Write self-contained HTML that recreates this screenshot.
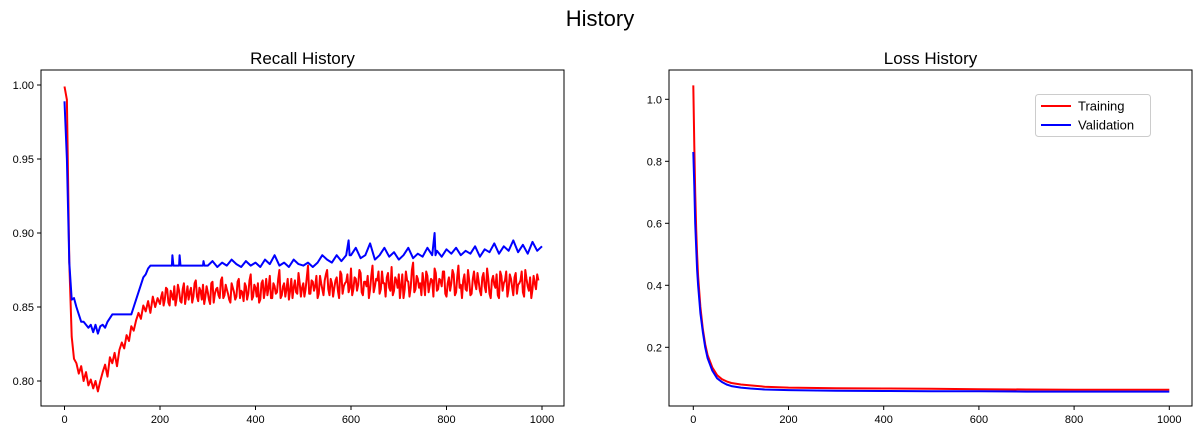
<!DOCTYPE html>
<html><head><meta charset="utf-8"><style>
body{margin:0;background:#fff;}
svg text{font-family:"Liberation Sans","DejaVu Sans",sans-serif;fill:#000;}
</style></head><body>
<svg id="c" width="1200" height="432">
<text x="600" y="26" font-size="22" text-anchor="middle">History</text>
</svg>
<script>
const recallTrainEpochs0 = [0,5,10,15,20,25,30,35,40,45,50,55,60,65,70,75,80,85,90,95,100,105,110,115,120,125,130,135,140,145,150,155,160,165,170,175,180,185,190,195];
const recallTrainVals0 = [0.999,0.99,0.88,0.83,0.815,0.812,0.805,0.81,0.80,0.806,0.797,0.801,0.795,0.80,0.793,0.80,0.806,0.811,0.803,0.816,0.812,0.819,0.81,0.821,0.826,0.822,0.831,0.827,0.837,0.834,0.841,0.846,0.842,0.851,0.847,0.854,0.846,0.857,0.85,0.856];
const recallTrainTail = [0.852,0.86,0.855,0.862,0.851,0.858,0.864,0.856,0.861,0.853,0.866,0.858,0.855,0.863,0.857,0.868,0.854,0.861,0.865,0.857,0.86,0.852,0.867,0.859,0.863,0.856,0.87,0.858,0.862,0.855,0.866,0.86,0.857,0.869,0.861,0.854,0.864,0.859,0.872,0.857,0.863,0.866,0.855,0.868,0.861,0.858,0.871,0.856,0.864,0.86,0.875,0.858,0.866,0.862,0.855,0.869,0.863,0.86,0.873,0.857,0.866,0.862,0.878,0.859,0.867,0.864,0.856,0.871,0.862,0.868,0.875,0.858,0.866,0.863,0.87,0.856,0.872,0.864,0.867,0.86,0.876,0.862,0.869,0.865,0.873,0.858,0.867,0.871,0.862,0.878,0.864,0.868,0.859,0.874,0.866,0.87,0.863,0.877,0.861,0.868,0.872,0.864,0.856,0.874,0.867,0.863,0.88,0.862,0.869,0.866,0.873,0.858,0.871,0.865,0.868,0.876,0.861,0.869,0.864,0.874,0.857,0.87,0.866,0.872,0.86,0.878,0.865,0.868,0.862,0.875,0.858,0.869,0.866,0.873,0.861,0.87,0.864,0.876,0.859,0.868,0.865,0.872,0.856,0.871,0.866,0.874,0.862,0.869,0.858,0.873,0.865,0.868,0.86,0.875,0.864,0.87,0.862,0.866,0.872];
const recallTrainTailMid = [0.857,0.851,0.863,0.853,0.861,0.855,0.851,0.865,0.854,0.862,0.852,0.864,0.86,0.853,0.866,0.857,0.863,0.855,0.852,0.864,0.855,0.866,0.853,0.862,0.858,0.868,0.856,0.865,0.859,0.853,0.863,0.855,0.867,0.856,0.86,0.866,0.855,0.868,0.855,0.865,0.857,0.853,0.866,0.856,0.869,0.863,0.856,0.866,0.859,0.869,0.856,0.864,0.857,0.869,0.861,0.856,0.868,0.859,0.866,0.863,0.857,0.87,0.859,0.868,0.861,0.871,0.859,0.866,0.858,0.872,0.862,0.869,0.857,0.868,0.861,0.874,0.859,0.866,0.872,0.863,0.858,0.87,0.861,0.875,0.86,0.867,0.864,0.856,0.871,0.86,0.869,0.874,0.862,0.866,0.857,0.873,0.861,0.858,0.87,0.863,0.856,0.872,0.862,0.868,0.857,0.875,0.86,0.871,0.863,0.858,0.866,0.874,0.86,0.869,0.857,0.873,0.862,0.868,0.874,0.859,0.866,0.861,0.875,0.858,0.87,0.863,0.856,0.872,0.861,0.868,0.859,0.874,0.862,0.867,0.858,0.873,0.86,0.869,0.856,0.871,0.863,0.858,0.874,0.861,0.868,0.857,0.872,0.863,0.87,0.859,0.866,0.874,0.857,0.869,0.861,0.856,0.871,0.862,0.868,0.859,0.873,0.863];
const recallValEpochs = [0,5,10,15,20,25,30,35,40,50,55,60,65,70,75,80,85,90,100,110,140,145,150,155,160,165,170,175,180,225,226,228,240,241,243,290,291,293,300,310,320,330,340,350,360,370,380,390,400,410,420,430,440,450,460,470,480,490,500,510,520,530,540,550,560,570,580,590,595,597,600,610,620,630,640,650,660,670,680,690,700,710,720,730,740,750,760,770,775,777,780,790,800,810,820,830,840,850,860,870,880,890,900,910,920,930,940,950,960,970,980,990,1000];
const recallValVals = [0.989,0.95,0.88,0.855,0.856,0.85,0.845,0.84,0.84,0.836,0.838,0.833,0.838,0.832,0.837,0.838,0.836,0.84,0.845,0.845,0.845,0.85,0.855,0.86,0.865,0.87,0.872,0.876,0.878,0.878,0.885,0.878,0.878,0.885,0.878,0.878,0.881,0.878,0.878,0.881,0.877,0.88,0.878,0.882,0.879,0.877,0.881,0.878,0.88,0.877,0.882,0.879,0.885,0.878,0.88,0.877,0.882,0.879,0.878,0.88,0.877,0.88,0.885,0.882,0.88,0.885,0.881,0.885,0.895,0.885,0.885,0.89,0.883,0.885,0.893,0.882,0.885,0.89,0.884,0.887,0.882,0.885,0.89,0.883,0.886,0.884,0.89,0.885,0.9,0.885,0.888,0.884,0.889,0.886,0.89,0.885,0.888,0.886,0.891,0.884,0.889,0.887,0.893,0.886,0.891,0.888,0.895,0.887,0.892,0.886,0.894,0.888,0.891];
const lossEpochs = [0,2,4,6,8,10,15,20,25,30,40,50,60,70,80,100,120,150,200,300,400,500,600,700,800,900,1000];
const lossTrain = [1.045,0.85,0.70,0.58,0.50,0.43,0.33,0.26,0.21,0.175,0.135,0.11,0.097,0.09,0.085,0.08,0.077,0.073,0.07,0.068,0.067,0.066,0.065,0.064,0.063,0.063,0.063];
const lossVal = [0.83,0.72,0.60,0.52,0.45,0.40,0.31,0.25,0.20,0.165,0.125,0.10,0.088,0.08,0.075,0.07,0.067,0.064,0.062,0.060,0.059,0.058,0.058,0.057,0.057,0.057,0.057];
const recallYTicks = [0.80,0.85,0.90,0.95,1.00];
const recallYLabels = ["0.80","0.85","0.90","0.95","1.00"];
const lossYTicks = [0.2,0.4,0.6,0.8,1.0];
const lossYLabels = ["0.2","0.4","0.6","0.8","1.0"];
const xTicks = [0,200,400,600,800,1000];

const NS="http://www.w3.org/2000/svg";
const svg=document.getElementById('c');
function mk(tag,attrs,parent){const e=document.createElementNS(NS,tag);for(const k in attrs)e.setAttribute(k,attrs[k]);(parent||svg).appendChild(e);return e;}

function panel(o){
  const g=mk('g',{});
  
  
  const sx=v=>o.x0px+(v-0)*o.xs;
  const sy=v=>o.y0px-(v-o.y0)*o.ys;
  const t=mk('text',{x:(o.L+o.R)/2,y:64,'font-size':17,'text-anchor':'middle'},g);
  t.textContent=o.title;
  
  
  xTicks.forEach(v=>{
    const x=sx(v);
    const l=mk('line',{x1:x,x2:x,y1:o.B,y2:o.B+4,stroke:'#000','stroke-width':1},g);
    
    
    const tt=mk('text',{x:x,y:o.B+17,'font-size':11,'text-anchor':'middle'},g);
    tt.textContent=String(v);
    
    
  });
  o.yt.forEach((v,i)=>{
    const y=sy(v);
    const l=mk('line',{x1:o.L-4,x2:o.L,y1:y,y2:y,stroke:'#000','stroke-width':1},g);
    
    
    const tt=mk('text',{x:o.L-7,y:y+4,'font-size':11,'text-anchor':'end'},g);
    tt.textContent=o.yl[i];
    
    
  });
  o.series.forEach(s=>{
    const pts=s.x.map((v,i)=>sx(v).toFixed(1)+','+sy(s.y[i]).toFixed(1)).join(' ');
    const p=mk('polyline',{points:pts,fill:'none',stroke:s.c,'stroke-width':2,'stroke-linejoin':'round'},g);
    
    
  });
  const r=mk('rect',{x:o.L,y:70,width:o.R-o.L,height:o.B-70,fill:'none',stroke:'#000','stroke-width':1},g);
  
  
}
const rtX=recallTrainEpochs0.slice(), rtY=recallTrainVals0.slice();
recallTrainTail.forEach((v,i)=>{
  rtX.push(200+5*i); rtY.push(v);
  if(i<recallTrainTailMid.length){rtX.push(202.5+5*i); rtY.push(recallTrainTailMid[i]);}
});
panel({name:'recall-panel',title:'Recall History',L:41,R:564,B:406,x0px:64.5,xs:95.5/200,y0:1.0,y0px:85,ys:74/0.05,yt:recallYTicks,yl:recallYLabels,
  series:[{name:'recall-training-line',x:rtX,y:rtY,c:'#ff0000'},{name:'recall-validation-line',x:recallValEpochs,y:recallValVals,c:'#0000ff'}]});
panel({name:'loss-panel',title:'Loss History',L:669,R:1192,B:406,x0px:693.3,xs:95.2/200,y0:1.0,y0px:99.3,ys:62/0.2,yt:lossYTicks,yl:lossYLabels,
  series:[{name:'loss-training-line',x:lossEpochs,y:lossTrain,c:'#ff0000'},{name:'loss-validation-line',x:lossEpochs,y:lossVal,c:'#0000ff'}]});

const lg=mk('g',{});


mk('rect',{x:1035.5,y:94.5,width:115,height:42,rx:3,fill:'#fff',stroke:'#ccc'},lg);
[['Training','#ff0000',106],['Validation','#0000ff',125]].forEach(e=>{
  const l=mk('line',{x1:1041,x2:1071,y1:e[2],y2:e[2],stroke:e[1],'stroke-width':2},lg);
  
  
  const t=mk('text',{x:1078,y:e[2]+4.5,'font-size':13},lg);
  t.textContent=e[0];
  
  
});
</script>
</body></html>
